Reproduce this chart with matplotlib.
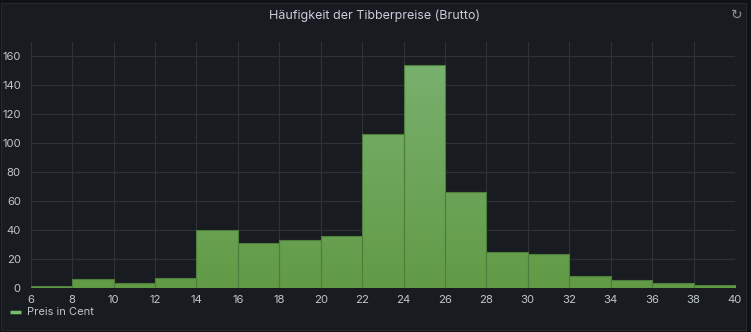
import numpy as np
import matplotlib
matplotlib.use("Agg")
import matplotlib.pyplot as plt
from matplotlib.colors import LinearSegmentedColormap
from matplotlib.patches import Rectangle

# Histogramm der Tibberpreise (Brutto), Bins à 2 Cent
bin_edges = [6, 8, 10, 12, 14, 16, 18, 20, 22, 24, 26, 28, 30, 32, 34, 36, 38, 40]
counts = [1, 6, 3, 7, 40, 31, 33, 36, 106, 154, 66, 25, 23, 8, 5, 3, 2]
x_ticks = list(range(6, 41, 2))
y_ticks = [0, 20, 40, 60, 80, 100, 120, 140, 160]

title = "Häufigkeit der Tibberpreise (Brutto)"
legend_label = "Preis in Cent"

BG = "#181b1f"
OUTER = "#111217"
GRID = "#2e3137"
TEXT = "#ccccdc"
TICK = "#c0c4cc"
GREEN = "#73bf69"

plt.rcParams["font.family"] = ["Inter", "DejaVu Sans"]

fig = plt.figure(figsize=(7.51, 3.32), dpi=100, facecolor=OUTER)
# panel
fig.patches.append(Rectangle((1 / 751, 2 / 332), 745 / 751, 327 / 332,
                             transform=fig.transFigure, facecolor=BG,
                             edgecolor="#25282d", linewidth=0.8, zorder=-10))

ax = fig.add_axes([30.7 / 751, 44.3 / 332, 704.3 / 751, 246 / 332])
ax.set_zorder(5)
ax.set_facecolor(BG)
ax.set_xlim(6, 40)
ax.set_ylim(0, 170)
ax.set_xticks(x_ticks)
ax.set_yticks(y_ticks)
ax.grid(True, color=GRID, linewidth=0.8)
ax.set_axisbelow(True)
for s in ax.spines.values():
    s.set_visible(False)
ax.tick_params(length=0, colors=TICK, labelsize=8.2)
ax.tick_params(axis="y", pad=7)
ax.tick_params(axis="x", pad=5)

cmap = LinearSegmentedColormap.from_list("fill", ["#629b46", "#7ab272"])
grad = np.linspace(0, 1, 256).reshape(-1, 1)
for left, right, c in zip(bin_edges[:-1], bin_edges[1:], counts):
    bar = Rectangle((left, 0), right - left, c, facecolor="none",
                    edgecolor="#4f7d3c", linewidth=0.8, zorder=3)
    ax.add_patch(bar)
    im = ax.imshow(grad, cmap=cmap, origin="lower", aspect="auto",
                   extent=(left, right, 0, 170), zorder=2, vmin=0, vmax=1)
    im.set_clip_path(bar)
ax.set_xlim(6, 40)
ax.set_ylim(0, 170)

fig.text(375 / 751, 1 - 16 / 332, title, color=TEXT, fontsize=9,
         ha="center", va="center")
fig.text(737 / 751, 1 - 15 / 332, "\u21bb", color="#8e9099", fontsize=10,
         ha="center", va="center", family="DejaVu Sans")

# legend
fig.lines.append(plt.Line2D([10 / 751, 21 / 751], [1 - 312 / 332] * 2,
                            transform=fig.transFigure, color=GREEN,
                            linewidth=2.5, solid_capstyle="butt"))
fig.text(27 / 751, 1 - 312 / 332, legend_label, color=TICK, fontsize=8,
         ha="left", va="center")

fig.savefig("out.png", dpi=100, facecolor=OUTER)
